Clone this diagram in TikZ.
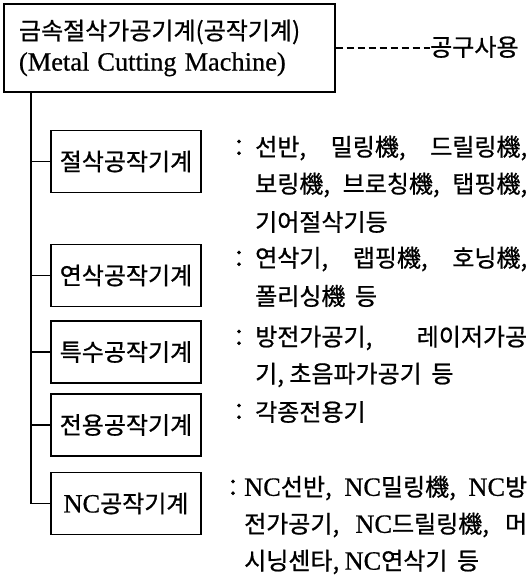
\documentclass[tikz,border=0pt]{standalone}
\usepackage{fontspec}
\setmainfont{Noto Sans CJK KR}[FakeBold=0.8]
\newfontfamily\lat{Liberation Serif}[FakeBold=0.6,Scale=1.1]
\newcommand\kf{\fontsize{24pt}{31pt}\selectfont}
\newcommand\jl[2]{\makebox[#1][s]{#2}}
\begin{document}
\begin{tikzpicture}[x=1pt,y=-1pt,
  mainbox/.style={draw, line width=1.3pt, minimum width=331pt, minimum height=88pt,
    inner xsep=15pt, inner ysep=0pt, text width=301pt, align=left, font=\kf},
  subbox/.style={draw, line width=1.3pt, minimum width=150pt, minimum height=62pt,
    inner sep=0pt, font=\kf},
  txt/.style={anchor=west, inner sep=0pt, font=\kf},
  colon/.style={inner sep=0pt, font=\kf},
  link/.style={line width=1.3pt},
  dashlink/.style={line width=1.1pt, dash pattern=on 7pt off 4pt}]
\useasboundingbox (0,0) rectangle (532,579);
% main box
\node[mainbox] (main) at (169.5,48)
  {금속절삭가공기계(공작기계)\\{\lat\jl{302pt}{(Metal Cutting Machine)}}};
\node[txt] (tool) at (430,47) {공구사용};
\draw[dashlink] (main.east) -- (main.east -| tool.west);
% sub boxes
\node[subbox] (b1) at (126,161.5) {절삭공작기계};
\node[subbox] (b2) at (126,275.5) {연삭공작기계};
\node[subbox] (b3) at (126,352) {특수공작기계};
\node[subbox] (b4) at (126,425) {전용공작기계};
\node[subbox] (b5) at (126,503.5) {{\lat NC}공작기계};
% tree
\coordinate (trunk) at (31,92);
\draw[link] (trunk) |- (b5.west);
\foreach \b in {b1,b2,b3,b4} \draw[link] (\b.west) -- (\b.west -| trunk);
% descriptions
\node[colon] (c1) at (239,148) {：};
\node[txt] (t11) at (255,148) {\jl{272pt}{선반, 밀링機, 드릴링機,}};
\node[txt] (t12) at (255,185) {\jl{272pt}{보링機, 브로칭機, 탭핑機,}};
\node[txt] (t13) at (255,222) {기어절삭기등};
\node[colon] (c2) at (239,259) {：};
\node[txt] (t21) at (255,259) {\jl{272pt}{연삭기, 랩핑機, 호닝機,}};
\node[txt] (t22) at (255,296) {폴리싱機\hspace{0.4em}등};
\node[colon] (c3) at (239,338) {：};
\node[txt] (t31) at (255,338) {\jl{272pt}{방전가공기, 레이저가공}};
\node[txt] (t32) at (255,375) {기, 초음파가공기\hspace{0.4em}등};
\node[colon] (c4) at (239,412) {：};
\node[txt] (t41) at (255,412) {각종전용기};
\node[colon] (c5) at (233,488) {：};
\node[txt] (t51) at (244,488) {\jl{283pt}{{\lat NC}선반, {\lat NC}밀링機, {\lat NC}방}};
\node[txt] (t52) at (244,525) {\jl{283pt}{전가공기, {\lat NC}드릴링機, 머}};
\node[txt] (t53) at (244,562) {시닝센타, {\lat NC}연삭기\hspace{0.4em}등};
\end{tikzpicture}
\end{document}
